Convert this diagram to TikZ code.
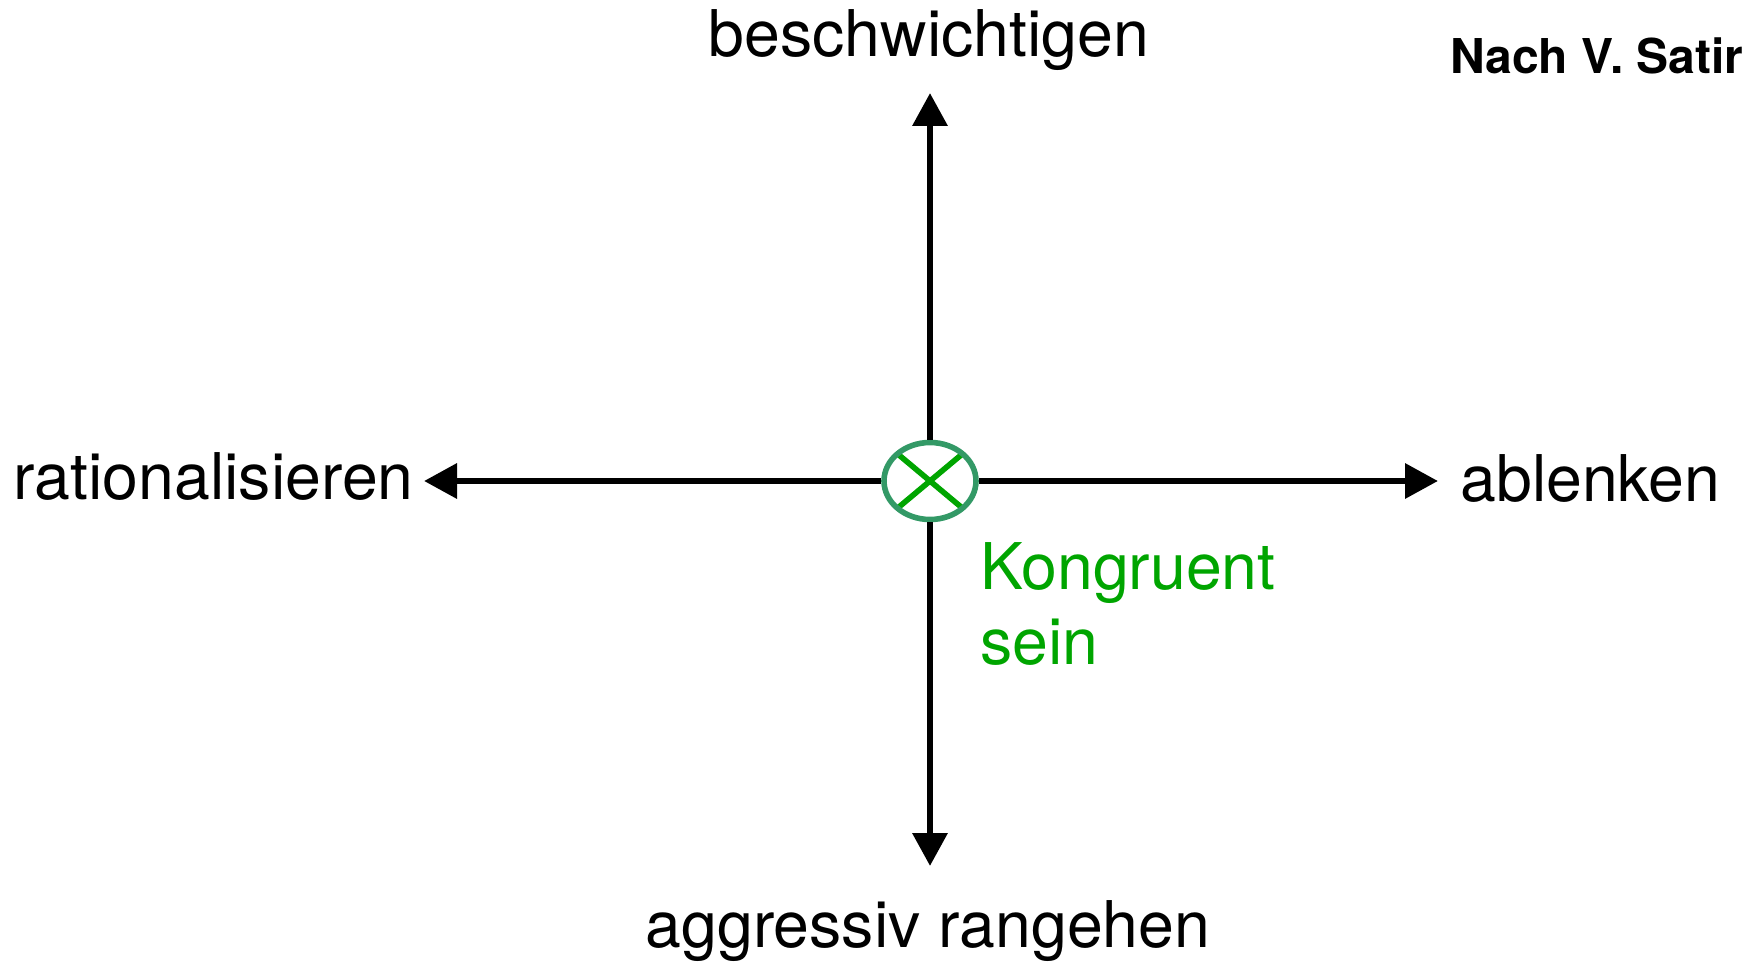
\documentclass[tikz,border=0pt]{standalone}
\usepackage{fontspec}
\setmainfont{TeX Gyre Heros}
\usepackage{tikz}
\usetikzlibrary{shapes.geometric, arrows.meta, positioning}
\definecolor{ringgreen}{RGB}{51, 153, 102}
\definecolor{crossgreen}{RGB}{0, 165, 0}

\begin{document}
\begin{tikzpicture}[
    x=0.5pt, y=-0.5pt,
    axis/.style={line width=3.25pt, -{Triangle[length=16.5pt, width=17pt]}},
    word/.style={font=\fontsize{32.2}{37.5}\selectfont, inner sep=0pt},
    hub/.style={ellipse, draw=ringgreen, line width=2.8pt, minimum width=46pt, minimum height=38.5pt, inner sep=0pt},
    crossline/.style={crossgreen, line width=2.8pt}
]
    % Frame
    \useasboundingbox (0, 0) rectangle (1757, 963);

    % Centre: congruent point
    \node[hub, path picture={
        \draw[crossline] (path picture bounding box.north west) -- (path picture bounding box.south east);
        \draw[crossline] (path picture bounding box.north east) -- (path picture bounding box.south west);
    }] (hub) at (930, 481) {};

    % Arrow tips
    \coordinate (upTip) at (930, 93);
    \coordinate (downTip) at (930, 866);
    \coordinate (leftTip) at (424, 481);
    \coordinate (rightTip) at (1438, 481);

    % Axes
    \draw[axis] (hub) -- (upTip);
    \draw[axis] (hub) -- (downTip);
    \draw[axis] (hub) -- (leftTip);
    \draw[axis] (hub) -- (rightTip);

    % Labels
    \node[word, anchor=base] (up) at (929, 57) {beschwichtigen};
    \node[word, anchor=base] (down) at (928, 947) {aggressiv rangehen};
    \node[word, anchor=base east] (left) at (414, 499) {rationalisieren};
    \node[word, anchor=base west] (right) at (1460, 501) {ablenken};
    \node[word, crossgreen, anchor=north west, align=left] (state) at (980, 542) {Kongruent\\sein};

    % Source
    \node[font=\fontsize{24}{29}\selectfont\bfseries, inner sep=0pt, anchor=base east] (source) at (1744, 74) {Nach V. Satir};
\end{tikzpicture}
\end{document}
